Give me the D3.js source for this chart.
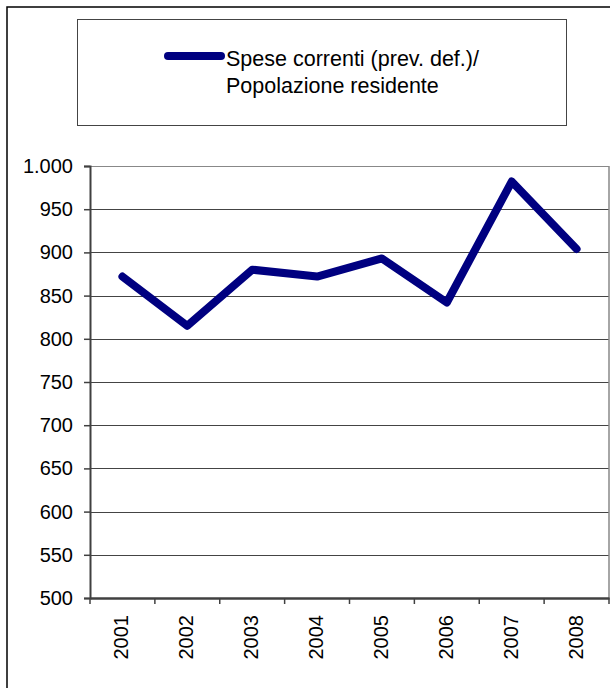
<!DOCTYPE html>
<html lang="en">

<head>
  <meta charset="utf-8">
  <title>Spese correnti / Popolazione residente</title>
  <script type="text/javascript" src="https://d3js.org/d3.v7.min.js"></script>
  <style type="text/css">
    body {
      margin: 0;
      background: #fff;
    }

    text {
      font-family: "Liberation Sans", Arial, sans-serif;
      fill: #000;
    }
  </style>
</head>

<body>
  <script type="text/javascript">
    var years = ["2001", "2002", "2003", "2004", "2005", "2006", "2007", "2008"];
    var values = [872, 815, 880, 872, 893, 842, 982, 904];
    var yTicks = [500, 550, 600, 650, 700, 750, 800, 850, 900, 950, 1000];
    var legendLines = ["Spese correnti (prev. def.)/", "Popolazione residente"];

    var width = 610,
      height = 688;
    var plot = { left: 90, right: 609, top: 166, bottom: 598 };

    var svg = d3.select("body")
      .append("svg")
      .attr("width", width)
      .attr("height", height);

    // outer frame
    svg.append("rect")
      .attr("x", 7)
      .attr("y", 7)
      .attr("width", 640)
      .attr("height", 720)
      .attr("fill", "none")
      .attr("stroke", "#000")
      .attr("stroke-width", 1.5);

    var x = d3.scaleBand()
      .domain(years)
      .range([plot.left, plot.right]);

    var y = d3.scaleLinear()
      .domain([500, 1000])
      .range([plot.bottom, plot.top]);

    // gridlines
    svg.append("g")
      .selectAll("line")
      .data(yTicks.slice(1))
      .enter()
      .append("line")
      .attr("x1", plot.left)
      .attr("x2", plot.right)
      .attr("y1", function(d) { return Math.round(y(d)) + 0.5; })
      .attr("y2", function(d) { return Math.round(y(d)) + 0.5; })
      .attr("stroke", function(d) { return d === 1000 ? "#888" : "#444"; })
      .attr("stroke-width", 1.2);

    // right frame
    svg.append("line")
      .attr("x1", plot.right)
      .attr("x2", plot.right)
      .attr("y1", plot.top)
      .attr("y2", plot.bottom)
      .attr("stroke", "#888")
      .attr("stroke-width", 1.5);

    // y axis
    var yAxis = d3.axisLeft(y)
      .tickValues(yTicks)
      .tickSize(6)
      .tickPadding(11)
      .tickFormat(function(d) { return d3.format(",")(d).replace(",", "."); });

    svg.append("g")
      .attr("transform", "translate(" + plot.left + ",0)")
      .call(yAxis)
      .call(function(g) {
        g.select(".domain").attr("stroke", "#404040").attr("stroke-width", 2);
        g.selectAll(".tick line").attr("stroke", "#404040").attr("stroke-width", 1.5);
        g.selectAll(".tick text")
          .attr("font-size", 20)
          .attr("font-family", "Liberation Sans, Arial, sans-serif")
          .attr("fill", "#000");
      });

    // x axis, ticks between categories
    var xAxis = d3.axisBottom(x).tickSize(0).tickFormat("");
    var xg = svg.append("g")
      .attr("transform", "translate(0," + plot.bottom + ")")
      .call(xAxis);
    xg.select(".domain").attr("stroke", "#404040").attr("stroke-width", 2.5);

    xg.selectAll(".sep")
      .data(years.concat(["end"]))
      .enter()
      .append("line")
      .attr("class", "sep")
      .attr("x1", function(d, i) { return plot.left + i * x.bandwidth(); })
      .attr("x2", function(d, i) { return plot.left + i * x.bandwidth(); })
      .attr("y1", 0)
      .attr("y2", 6)
      .attr("stroke", "#404040")
      .attr("stroke-width", 1.5);

    xg.selectAll(".year")
      .data(years)
      .enter()
      .append("text")
      .attr("class", "year")
      .attr("transform", function(d) {
        return "translate(" + (x(d) + x.bandwidth() / 2 - 1) + ",17) rotate(-90)";
      })
      .attr("dy", "0.35em")
      .attr("text-anchor", "end")
      .attr("font-size", 20)
      .text(function(d) { return d; });

    // series line
    var line = d3.line()
      .x(function(d, i) { return x(years[i]) + x.bandwidth() / 2; })
      .y(function(d) { return y(d); });

    svg.append("path")
      .datum(values)
      .attr("d", line)
      .attr("fill", "none")
      .attr("stroke", "#000080")
      .attr("stroke-width", 8)
      .attr("stroke-linejoin", "round")
      .attr("stroke-linecap", "round");

    // legend
    var legend = svg.append("g");
    legend.append("rect")
      .attr("x", 77.5)
      .attr("y", 19.5)
      .attr("width", 489)
      .attr("height", 106)
      .attr("fill", "#fff")
      .attr("stroke", "#444")
      .attr("stroke-width", 1);

    legend.append("line")
      .attr("x1", 168)
      .attr("x2", 221)
      .attr("y1", 56)
      .attr("y2", 56)
      .attr("stroke", "#000080")
      .attr("stroke-width", 8)
      .attr("stroke-linecap", "round");

    legend.selectAll(".lg")
      .data(legendLines)
      .enter()
      .append("text")
      .attr("class", "lg")
      .attr("x", 226)
      .attr("y", function(d, i) { return 66 + i * 27; })
      .attr("font-size", 21.5)
      .text(function(d) { return d; });
  </script>
</body>

</html>
